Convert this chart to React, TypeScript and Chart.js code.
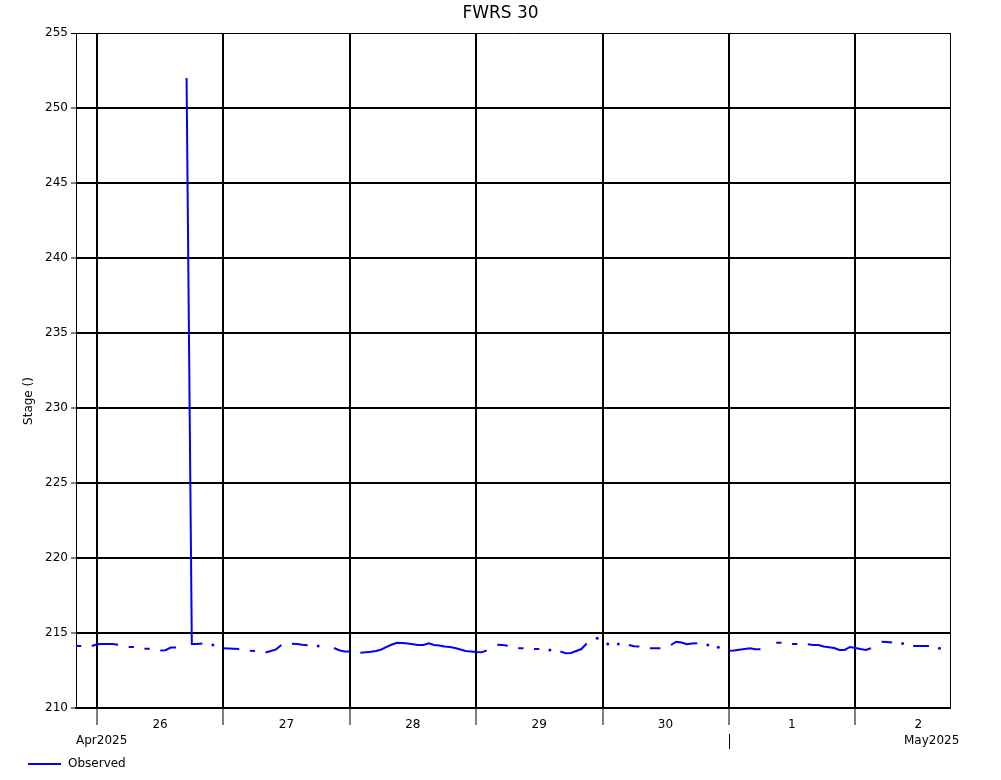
import React, { useEffect, useRef } from 'react';
import { Chart, registerables } from 'chart.js';

Chart.register(...registerables);

// ---- data ----
const chartTitle = 'FWRS 30';
const yAxisTitle = 'Stage ()';
const seriesLabel = 'Observed';
const seriesColor = '#0000ff';

// hourly observations, first value at 25 Apr 2025 20:00 (hour -4 relative to 26 Apr 00:00)
const startHour = -4;
const stage: (number | null)[] = [
  214.13, 214.13, null, 214.13, // -4..-1
  214.25, 214.27, 214.27, 214.27, 214.22, null, 214.07, 214.07, null, 213.95, 213.95, null, // 0..11
  213.83, 213.85, 214.03, 214.04, null, 252.0, 214.27, 214.27, 214.3, null, 214.2, null, // 12..23
  213.98, 213.97, 213.95, 213.93, null, 213.82, 213.8, null, 213.7, 213.8, 213.91, 214.2, // 24..35
  null, 214.28, 214.27, 214.22, 214.18, null, 214.13, null, null, 214.0, 213.85, 213.77, // 36..47
  213.76, null, 213.69, 213.71, 213.75, 213.8, 213.9, 214.07, 214.23, 214.35, 214.33, 214.3, // 48..59
  214.25, 214.2, 214.2, 214.31, 214.2, 214.17, 214.1, 214.07, 214.0, 213.9, 213.8, 213.77, // 60..71
  213.73, 213.71, 213.83, null, 214.22, 214.2, 214.15, null, 213.98, 213.98, null, 213.93, // 72..83
  213.93, null, 213.87, null, 213.77, 213.65, 213.67, 213.8, 213.93, 214.3, null, 214.65, // 84..95
  null, 214.27, null, 214.27, null, 214.2, 214.12, 214.1, null, 213.98, 213.98, 213.98, // 96..107
  null, 214.2, 214.42, 214.37, 214.25, 214.3, 214.31, null, 214.2, null, 214.05, null, // 108..119
  213.82, 213.83, 213.88, 213.93, 213.98, 213.91, 213.91, null, null, 214.35, 214.35, null, // 120..131
  214.27, 214.27, null, 214.25, 214.2, 214.2, 214.1, 214.05, 214.0, 213.87, 213.87, 214.07, // 132..143
  214.0, 213.93, 213.87, 213.98, null, 214.42, 214.4, 214.37, null, 214.3, null, 214.13, // 144..155
  214.13, 214.13, 214.13, null, 213.98, // 156..160
];

const xMin = -4;
const xMax = 162;
const dayTickHours = [0, 24, 48, 72, 96, 120, 144];
const dayLabels = ['26', '27', '28', '29', '30', '1', '2'];
const monthLabels = ['Apr2025', 'May2025'];
const monthBoundaryHour = 120;

const yMin = 210;
const yMax = 255;
const yStep = 5;

const FONT = 'DejaVu Sans';

const extrasPlugin = {
  id: 'extras',
  afterDraw(chart: any) {
    const { ctx, chartArea, scales } = chart;
    ctx.save();
    ctx.strokeStyle = '#000';
    ctx.lineWidth = 1;

    // y axis title
    ctx.fillStyle = '#000';
    ctx.font = `12px "${FONT}"`;
    ctx.save();
    ctx.translate(29, 401);
    ctx.rotate(-Math.PI / 2);
    ctx.textAlign = 'center';
    ctx.textBaseline = 'middle';
    ctx.fillText(yAxisTitle, 0, 0);
    ctx.restore();

    // month labels
    ctx.textBaseline = 'middle';
    ctx.textAlign = 'left';
    ctx.fillText(monthLabels[0], chartArea.left, 741);
    ctx.fillText(monthLabels[1], 904, 741);
    const mx = Math.round(scales.x.getPixelForValue(monthBoundaryHour)) + 0.5;
    ctx.beginPath();
    ctx.moveTo(mx, 734);
    ctx.lineTo(mx, 749);
    ctx.stroke();

    // legend
    const ds = chart.data.datasets[0];
    ctx.strokeStyle = ds.borderColor;
    ctx.lineWidth = 2;
    ctx.beginPath();
    ctx.moveTo(28, 764);
    ctx.lineTo(61, 764);
    ctx.stroke();
    ctx.fillStyle = '#000';
    ctx.fillText(ds.label, 68, 764);
    ctx.restore();
  },
};

export default function App() {
  const ref = useRef<HTMLCanvasElement | null>(null);

  useEffect(() => {
    if (!ref.current) return;
    Chart.defaults.font.family = FONT;
    Chart.defaults.color = '#000';
    const points = stage.map((v, i) => ({ x: startHour + i, y: v }));
    const chart = new Chart(ref.current, {
      type: 'line',
      data: {
        datasets: [
          {
            label: seriesLabel,
            data: points as any,
            borderColor: seriesColor,
            backgroundColor: seriesColor,
            borderWidth: 2,
            spanGaps: false,
            tension: 0,
            pointRadius: (c: any) => {
              const i = c.dataIndex;
              const cur = stage[i];
              const prev = i > 0 ? stage[i - 1] : null;
              const next = i < stage.length - 1 ? stage[i + 1] : null;
              return cur != null && prev == null && next == null ? 1.5 : 0;
            },
            pointBorderWidth: 0,
            pointHoverRadius: 0,
          },
        ],
      },
      options: {
        responsive: false,
        animation: false,
        layout: { padding: { left: 0, right: 0, top: 0, bottom: 0 } },
        plugins: {
          legend: { display: false },
          tooltip: { enabled: false },
          title: {
            display: true,
            text: chartTitle,
            color: '#000',
            font: { family: FONT, size: 17, weight: 'normal', lineHeight: 1.2 },
            padding: { top: 3, bottom: 9.6 },
          },
        },
        scales: {
          x: {
            type: 'linear',
            min: xMin,
            max: xMax,
            afterBuildTicks: (s: any) => {
              s.ticks = dayTickHours.map((v) => ({ value: v }));
            },
            afterFit: (s: any) => {
              s.height = 72;
            },
            ticks: {
              autoSkip: false,
              maxRotation: 0,
              minRotation: 0,
              labelOffset: 63,
              padding: -7,
              color: '#000',
              font: { family: FONT, size: 12 },
              callback: (_v: any, i: number) => dayLabels[i],
            },
            grid: {
              color: '#000',
              lineWidth: 2,
              tickLength: 17,
              tickWidth: 1,
              tickColor: '#000',
            },
            border: { color: '#000', width: 2 },
          },
          y: {
            type: 'linear',
            min: yMin,
            max: yMax,
            afterFit: (s: any) => {
              s.width = 76;
            },
            ticks: {
              stepSize: yStep,
              padding: 3,
              color: '#000',
              font: { family: FONT, size: 12 },
            },
            grid: {
              color: '#000',
              lineWidth: (c: any) => (c.tick && c.tick.value === yMax ? 1 : 2),
              tickLength: 5,
              tickWidth: 1,
              tickColor: '#000',
            },
            border: { color: '#000', width: 1 },
          },
          yRight: {
            type: 'linear',
            position: 'right',
            min: yMin,
            max: yMax,
            afterFit: (s: any) => {
              s.width = 51;
            },
            ticks: { display: false },
            grid: { display: false, drawOnChartArea: false },
            border: { display: true, color: '#000', width: 1 },
          },
        },
      },
      plugins: [extrasPlugin],
    });
    return () => chart.destroy();
  }, []);

  return (
    <div style={{ position: 'absolute', left: 0, top: 0, width: 1001, height: 780, background: '#fff' }}>
      <canvas ref={ref} width={1001} height={780} style={{ display: 'block' }} />
    </div>
  );
}
